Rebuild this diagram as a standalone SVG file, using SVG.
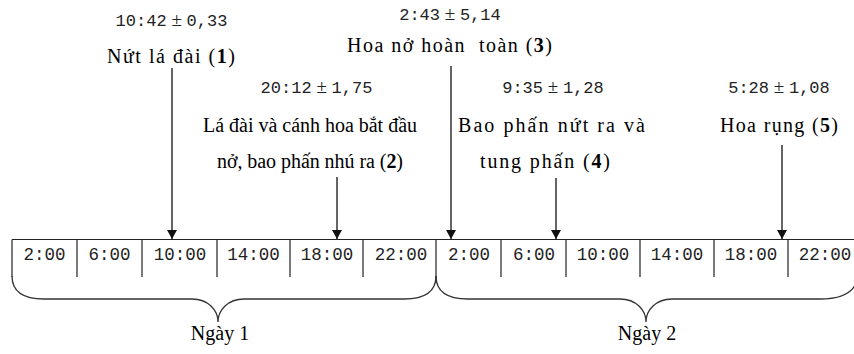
<svg xmlns="http://www.w3.org/2000/svg" width="854" height="354" viewBox="0 0 854 354">
<style>
.lbl{font-family:"Liberation Serif","Times New Roman",serif;font-size:20px;fill:#000;text-anchor:middle}
.num{font-family:"Liberation Mono","Courier New",monospace;font-size:17px;fill:#222;text-anchor:middle}
.pm{font-family:"Liberation Serif","Times New Roman",serif;font-size:19px}
.tk{font-family:"Liberation Mono","Courier New",monospace;font-size:17.5px;fill:#222;text-anchor:middle}
.ln{stroke:#222;stroke-width:1.2;fill:none}
.br{stroke:#333;stroke-width:1.3;fill:none}
.arr{stroke:#111;stroke-width:1.3;fill:none;marker-end:url(#ah)}
.b{font-weight:bold}
</style>
<defs>
<marker id="ah" markerUnits="userSpaceOnUse" markerWidth="10" markerHeight="10" refX="9" refY="5" orient="auto">
<path d="M0,0 L9,5 L0,10 z" fill="#111"/>
</marker>
</defs>
<rect width="854" height="354" fill="#fff"/>

<g id="timeline">
<path class="ln" d="M12,239.5 H854"/>
<path class="ln" d="M12,239.5 V277 M77,239.5 V277 M142,239.5 V277 M217,239.5 V277 M290,239.5 V277 M363,239.5 V277 M436,239.5 V279 M501,239.5 V277 M566,239.5 V277 M640,239.5 V277 M714,239.5 V277 M788,239.5 V277"/>
<text class="tk" x="44.5" y="260">2:00</text>
<text class="tk" x="109.5" y="260">6:00</text>
<text class="tk" x="180" y="260">10:00</text>
<text class="tk" x="253.5" y="260">14:00</text>
<text class="tk" x="327" y="260">18:00</text>
<text class="tk" x="401" y="260">22:00</text>
<text class="tk" x="469" y="260">2:00</text>
<text class="tk" x="534" y="260">6:00</text>
<text class="tk" x="603" y="260">10:00</text>
<text class="tk" x="677" y="260">14:00</text>
<text class="tk" x="751" y="260">18:00</text>
<text class="tk" x="825" y="260">22:00</text>
</g>

<g id="day1">
<path class="br" d="M12,276 C12,292 24,299 44,299 L192,299 C208,299 218,310 218,322 C218,310 228,299 244,299 L404,299 C424,299 436,292 436,276"/>
<text class="lbl" x="220" y="340">Ngày 1</text>
</g>
<g id="day2">
<path class="br" d="M436,276 C436,292 448,299 468,299 L620,299 C636,299 646,310 646,322 C646,310 656,299 672,299 L820,299 C842,299 856,292 858,276"/>
<text class="lbl" x="647" y="340">Ngày 2</text>
</g>

<g id="event1">
<text class="num" x="171.5" y="26">10:42<tspan class="pm"> ± </tspan>0,33</text>
<text class="lbl" x="171" y="63" textLength="128" lengthAdjust="spacing">Nứt lá đài (<tspan class="b">1</tspan>)</text>
</g>
<g id="event2">
<text class="num" x="316.5" y="93">20:12<tspan class="pm"> ± </tspan>1,75</text>
<text class="lbl" x="310" y="132" textLength="214" lengthAdjust="spacing">Lá đài và cánh hoa bắt đầu</text>
<text class="lbl" x="310" y="168" textLength="186" lengthAdjust="spacing">nở, bao phấn nhú ra (<tspan class="b">2</tspan>)</text>
</g>
<g id="event3">
<text class="num" x="450" y="20">2:43<tspan class="pm"> ± </tspan>5,14</text>
<text class="lbl" x="449.5" y="52" xml:space="preserve" style="white-space:pre" textLength="205" lengthAdjust="spacing">Hoa nở hoàn  toàn (<tspan class="b">3</tspan>)</text>
</g>
<g id="event4">
<text class="num" x="553" y="93">9:35<tspan class="pm"> ± </tspan>1,28</text>
<text class="lbl" x="551.5" y="132" textLength="187" lengthAdjust="spacing">Bao phấn nứt ra và</text>
<text class="lbl" x="545" y="168" textLength="130" lengthAdjust="spacing">tung phấn (<tspan class="b">4</tspan>)</text>
</g>
<g id="event5">
<text class="num" x="779" y="93">5:28<tspan class="pm"> ± </tspan>1,08</text>
<text class="lbl" x="779" y="132" textLength="118" lengthAdjust="spacing">Hoa rụng (<tspan class="b">5</tspan>)</text>
</g>

<g id="connectors">
<line class="arr" x1="172" y1="68" x2="172" y2="239"/>
<line class="arr" x1="337" y1="177" x2="337" y2="239"/>
<line class="arr" x1="451" y1="66" x2="451" y2="239"/>
<line class="arr" x1="556" y1="178" x2="556" y2="239"/>
<line class="arr" x1="782" y1="145" x2="782" y2="239"/>
</g>
</svg>
